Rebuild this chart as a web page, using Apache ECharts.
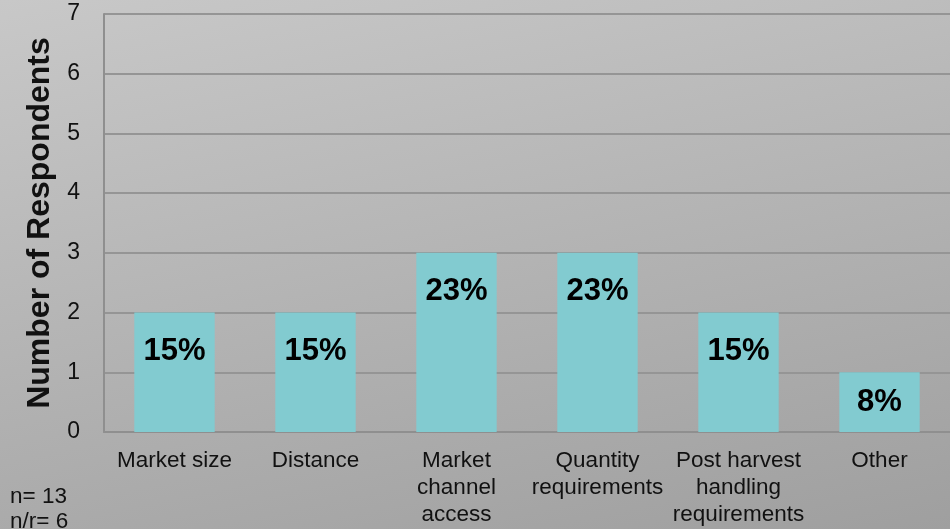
<!DOCTYPE html>
<html><head><meta charset="utf-8">
<script src="https://cdn.jsdelivr.net/npm/echarts@6/dist/echarts.min.js"></script>
<style>html,body{margin:0;padding:0;}#c{width:950px;height:529px;}</style>
</head><body><div id="c"></div>
<script>
const categories = ['Market size', 'Distance', 'Market\nchannel\naccess', 'Quantity\nrequirements', 'Post harvest\nhandling\nrequirements', 'Other'];
const respondents = [2, 2, 3, 3, 2, 1];
const percentLabels = ['15%', '15%', '23%', '23%', '15%', '8%'];
const yAxisTitle = 'Number of Respondents';
const noteLines = ['n= 13', 'n/r= 6'];

const FF = 'Liberation Sans';
const chart = echarts.init(document.getElementById('c'));
chart.setOption({
  animation: false,
  graphic: [
    { type: 'rect', z: -10, silent: true, shape: { x: 0, y: 0, width: 950, height: 529 },
      style: { fill: new echarts.graphic.LinearGradient(0, 0, 148, 699, [
        { offset: 0, color: '#c8c8c8' }, { offset: 1, color: '#9f9f9f' }], true) } },
    { type: 'text', left: 10, top: 484, z: 10,
      style: { text: noteLines.join('\n'), fontSize: 22.5, fontFamily: FF, fill: '#111', lineHeight: 25 } }
  ],
  grid: { left: 104, right: -3, top: 14, bottom: 97, containLabel: false },
  xAxis: {
    type: 'category', data: categories,
    axisTick: { show: false },
    axisLine: { show: true, lineStyle: { color: '#8f8f8f', width: 2 } },
    axisLabel: { color: '#111', fontSize: 22.5, fontFamily: FF, lineHeight: 27, margin: 15, interval: 0 }
  },
  yAxis: {
    type: 'value', min: 0, max: 7, interval: 1,
    name: yAxisTitle, nameLocation: 'middle', nameGap: 46, nameRotate: 90,
    nameTextStyle: { color: '#111', fontSize: 32, fontWeight: 'bold', fontFamily: FF },
    axisLine: { show: true, lineStyle: { color: '#8f8f8f', width: 2 } },
    axisTick: { show: false },
    axisLabel: { color: '#111', fontSize: 23, fontFamily: FF, margin: 24 },
    splitLine: { lineStyle: { color: '#959595', width: 2 } }
  },
  series: [{
    type: 'bar',
    data: respondents.map((v, i) => v < 2 ? { value: v, label: { position: 'inside' } } : v),
    barWidth: '57%',
    itemStyle: { color: '#82cbd0' },
    label: { show: true, position: 'insideTop', distance: 23,
      formatter: p => percentLabels[p.dataIndex],
      color: '#000', fontSize: 31, fontWeight: 'bold', fontFamily: FF }
  }]
});
</script></body></html>
